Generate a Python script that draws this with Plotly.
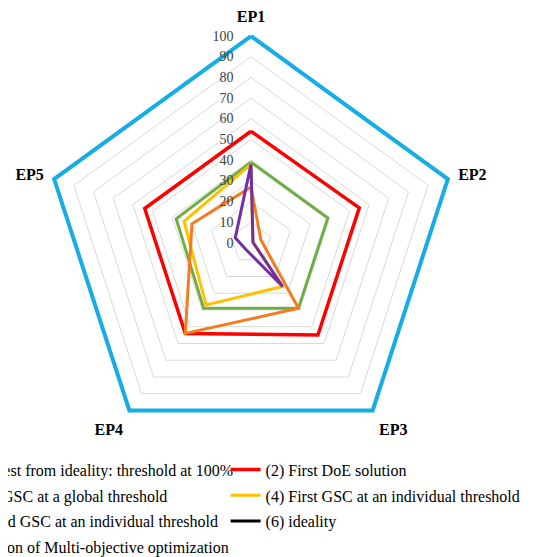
import plotly.graph_objects as go

categories = ['EP1', 'EP2', 'EP3', 'EP4', 'EP5']

names = [
    '(1) Furthest from ideality: threshold at 100%',
    '(2) First DoE solution',
    '(3) First GSC at a global threshold',
    '(4) First GSC at an individual threshold',
    '(5) Second GSC at an individual threshold',
    '(6) ideality',
    '(7) Solution of Multi-objective optimization',
]

furthest = [100, 100, 100, 100, 100]
first_doe = [54, 55, 55, 54, 54]
gsc_global = [39, 39, 39, 39, 38]
gsc_individual = [38, 1, 26, 37, 34]
second_gsc = [27, 5, 39, 54, 30]
ideality = [0, 0, 0, 0, 0]
multi_obj = [38, 1, 26, 4, 8]

series = [furthest, first_doe, gsc_global, gsc_individual, second_gsc, ideality, multi_obj]
colors = ['#18ACE6', '#FF0000', '#70AD47', '#FFC000', '#F47B20', '#000000', '#7030A0']
widths = [4, 3.5, 3, 3, 3, 3, 3]
legends = ['legend', 'legend2', 'legend', 'legend2', 'legend', 'legend2', 'legend']

fig = go.Figure()

for i, vals in enumerate(series):
    fig.add_trace(go.Scatterpolar(
        r=vals + vals[:1],
        theta=categories + categories[:1],
        mode='lines',
        name=names[i],
        line=dict(color=colors[i], width=widths[i]),
        cliponaxis=False,
        legend=legends[i],
        legendgroup=str(i),
    ))

font = 'Liberation Serif, Times New Roman, serif'

# page body has an 8px margin, so the figure is sized to the visible area
# radial range goes a little past 100 so the outer blue line isn't cut in half
fig.update_layout(
    width=547,
    height=549,
    margin=dict(l=0, r=0, t=0, b=0, autoexpand=False),
    paper_bgcolor='white',
    plot_bgcolor='white',
    font=dict(family=font, color='#000000'),
    polar=dict(
        domain=dict(x=[0.0583, 0.8302], y=[0.1874, 0.9565]),
        gridshape='linear',
        bgcolor='white',
        angularaxis=dict(
            rotation=90,
            direction='clockwise',
            showgrid=False,
            showline=False,
            ticks='outside',
            ticklen=3,
            tickcolor='rgba(0,0,0,0)',
            tickfont=dict(family=font, size=16, color='#000000', weight='bold'),
        ),
        radialaxis=dict(
            range=[0, 102],
            tickvals=[0, 10, 20, 30, 40, 50, 60, 70, 80, 90, 100],
            angle=90,
            tickangle=90,
            side='counterclockwise',
            showline=False,
            ticks='outside',
            ticklen=12,
            tickcolor='rgba(0,0,0,0)',
            gridcolor='#D9D9D9',
            gridwidth=1,
            tickfont=dict(family=font, size=14, color='#404040'),
        ),
    ),
    legend=dict(
        x=-0.1864, y=0.1902, xanchor='left', yanchor='top',
        tracegroupgap=2, font=dict(family=font, size=16),
        bgcolor='rgba(0,0,0,0)',
    ),
    legend2=dict(
        x=0.3978, y=0.1902, xanchor='left', yanchor='top',
        tracegroupgap=2, font=dict(family=font, size=16),
        bgcolor='rgba(0,0,0,0)',
    ),
)

fig.write_html("out.html")
